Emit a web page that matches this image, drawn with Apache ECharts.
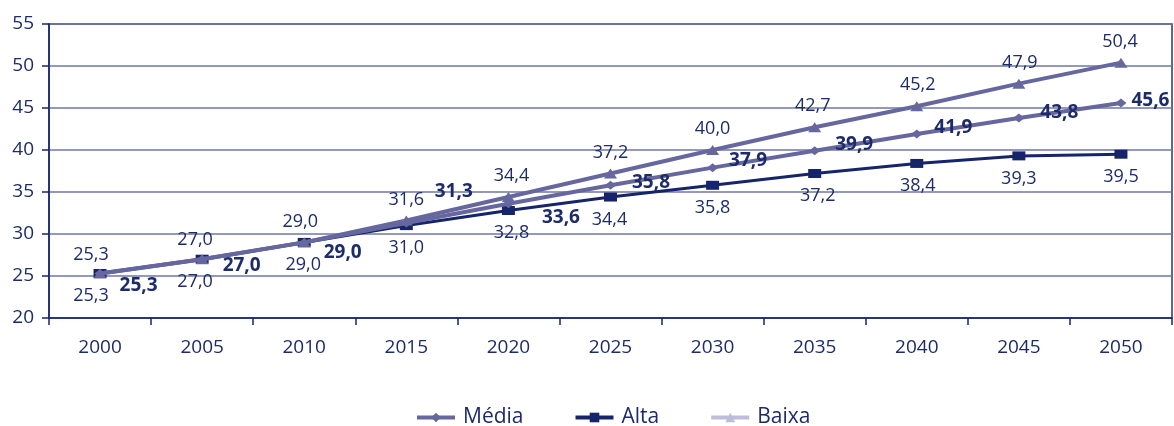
<!DOCTYPE html>
<html><head><meta charset="utf-8">
<script src="https://cdn.jsdelivr.net/npm/echarts@6/dist/echarts.min.js"></script>
<style>html,body{margin:0;padding:0;background:#fff}#c{width:1174px;height:426px}</style>
</head><body><div id="c"></div>
<script>
const years = ['2000','2005','2010','2015','2020','2025','2030','2035','2040','2045','2050'];
const media = [25.3, 27.0, 29.0, 31.3, 33.6, 35.8, 37.9, 39.9, 41.9, 43.8, 45.6];
const alta  = [25.3, 27.0, 29.0, 31.0, 32.8, 34.4, 35.8, 37.2, 38.4, 39.3, 39.5];
const baixa = [25.3, 27.0, 29.0, 31.6, 34.4, 37.2, 40.0, 42.7, 45.2, 47.9, 50.4];

// label placement tweaks (styling only)
const mediaLabelOffsets = [[9,12],[10,6],[9,10],[18,-31],[23,14],[11,-3],[6,-7],[10,-6],[7,-6],[11,-5],[0,-2]];
const baixaLabelOffsets = [[-9,2],[-7,2],[-4,0],[0,0],[3,0],[0,0],[0,0],[-2,0],[1,0],[1,0],[-1,0]];
const altaLabelOffsets  = [[-9,0],[-7,0],[-1,0],[0,0],[3,0],[-1,0],[0,0],[3,0],[1,0],[0,0],[0,0]];

const TXT = '#1d2b6b';
const PURPLE = '#67679f';
const NAVY = '#16246a';
const LIGHT = '#bdbdd9';
const FONT = 'Open Sans';
const fmt = v => v.toFixed(1).replace('.', ',');

function items(vals, offs) {
  return vals.map((v, i) => ({ value: v, label: { offset: offs[i] } }));
}

const chart = echarts.init(document.getElementById('c'), null, {renderer: 'canvas'});
chart.setOption({
  animation: false,
  textStyle: { fontFamily: FONT },
  grid: { left: 49, right: 2, top: 24, bottom: 108, show: true, borderColor: '#2a3575', borderWidth: 1.5, backgroundColor: 'transparent' },
  legend: {
    left: 410, top: 402,
    itemWidth: 38, itemHeight: 12, itemGap: 50,
    textStyle: { color: TXT, fontSize: 21, fontFamily: FONT, padding: [0, 0, 0, 3] },
    data: [
      { name: 'Média', lineStyle: { width: 4 } },
      { name: 'Alta', lineStyle: { width: 4 } },
      { name: 'Baixa', itemStyle: { color: LIGHT }, lineStyle: { color: LIGHT, width: 4 } }
    ]
  },
  xAxis: {
    type: 'category', data: years, boundaryGap: true,
    axisLine: { lineStyle: { color: NAVY, width: 1.5 } },
    axisTick: { show: true, length: 7, lineStyle: { color: NAVY, width: 1.5 } },
    axisLabel: { color: TXT, fontSize: 19, margin: 20, fontFamily: FONT },
    splitLine: { show: false }
  },
  yAxis: {
    type: 'value', min: 20, max: 55, interval: 5,
    axisLine: { show: true, lineStyle: { color: NAVY, width: 1.5 } },
    axisTick: { show: true, length: 7, lineStyle: { color: NAVY, width: 1.5 } },
    axisLabel: { color: TXT, fontSize: 19, margin: 15, fontFamily: FONT },
    splitLine: { show: true, lineStyle: { color: '#6f77a3', width: 1.5 } }
  },
  series: [
    {
      name: 'Alta', type: 'line', data: items(alta, altaLabelOffsets),
      symbol: 'rect', symbolSize: [13, 9], showAllSymbol: true,
      lineStyle: { color: NAVY, width: 3 }, itemStyle: { color: NAVY },
      label: { show: true, position: 'bottom', distance: 9, color: TXT, fontSize: 18, fontFamily: FONT, formatter: p => fmt(p.value) },
      z: 2
    },
    {
      name: 'Média', type: 'line', data: items(media, mediaLabelOffsets),
      symbol: 'diamond', symbolSize: [11, 9], showAllSymbol: true,
      lineStyle: { color: PURPLE, width: 4 }, itemStyle: { color: PURPLE },
      label: { show: true, position: 'right', distance: 5, color: TXT, fontSize: 19, fontWeight: 'bold', fontFamily: FONT, formatter: p => fmt(p.value) },
      z: 3
    },
    {
      name: 'Baixa', type: 'line', data: items(baixa, baixaLabelOffsets),
      symbol: 'triangle', symbolSize: [13, 10], showAllSymbol: true,
      lineStyle: { color: PURPLE, width: 4 }, itemStyle: { color: PURPLE },
      label: { show: true, position: 'top', distance: 7, color: TXT, fontSize: 18, fontFamily: FONT, formatter: p => fmt(p.value) },
      z: 4
    }
  ]
});
</script></body></html>
